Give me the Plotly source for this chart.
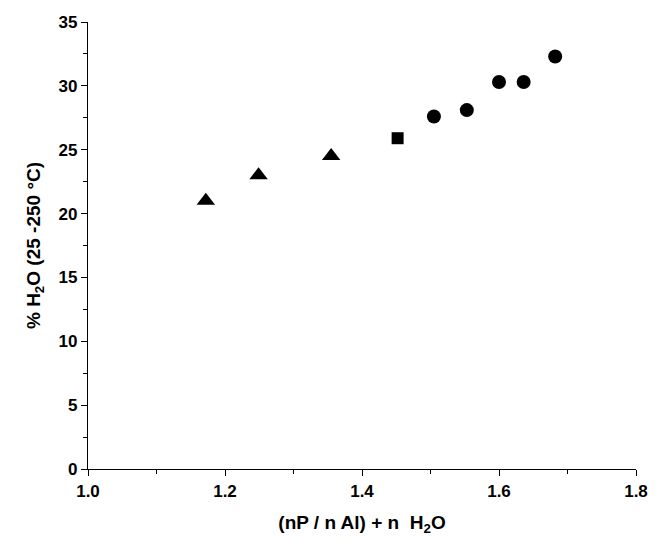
import plotly.graph_objects as go

tri_x = [1.172, 1.249, 1.355]
tri_y = [21.0, 23.0, 24.5]
sq_x = [1.452]
sq_y = [25.9]
circ_x = [1.505, 1.553, 1.600, 1.636, 1.682]
circ_y = [27.6, 28.1, 30.3, 30.3, 32.3]

fig = go.Figure()
for xs, ys, sym, sz in [(tri_x, tri_y, 'triangle-up', 16), (sq_x, sq_y, 'square', 12),
                        (circ_x, circ_y, 'circle', 14)]:
    fig.add_trace(go.Scatter(x=xs, y=ys, mode='markers',
                             marker=dict(symbol=sym, size=sz, color='black'),
                             showlegend=False))

font = dict(family='Liberation Sans, Arial', size=19, color='black', weight='bold')
axis = dict(showline=True, linecolor='black', linewidth=1.3, ticks='outside',
            ticklen=6, tickcolor='black', showgrid=False, zeroline=False,
            automargin=False,
            tickfont=dict(family='Liberation Sans, Arial', size=17, color='black',
                          weight='bold'))
fig.update_xaxes(range=[1.0, 1.8], dtick=0.2, tickformat='.1f',
                 minor=dict(dtick=0.1, ticks='outside', ticklen=4, tickcolor='black'),
                 title=dict(text='(nP / n Al) + n  H<sub>2</sub>O', font=font,
                            standoff=16), **axis)
fig.update_yaxes(range=[0, 35], dtick=5,
                 minor=dict(dtick=2.5, ticks='outside', ticklen=4, tickcolor='black'),
                 title=dict(text='% H<sub>2</sub>O (25 -250 °C)', font=font,
                            standoff=12), **axis)
# page body adds an 8px margin, so the figure is drawn a little smaller
fig.update_layout(width=652, height=545, plot_bgcolor='white', paper_bgcolor='white',
                  margin=dict(l=80, r=24, t=14, b=84),
                  font=dict(family='Liberation Sans, Arial', color='black'))
fig.write_html('out.html')
